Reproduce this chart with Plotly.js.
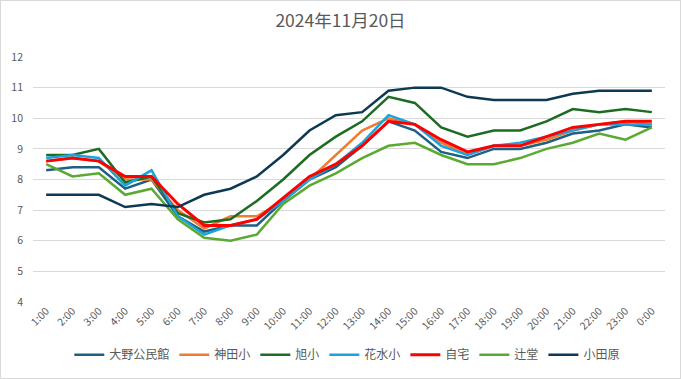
<!DOCTYPE html>
<html><head><meta charset="utf-8">
<script src="https://cdn.plot.ly/plotly-3.0.1.min.js"></script>
<style>html,body{margin:0;padding:0;background:#fff}#wrap{width:681px;height:379px;box-sizing:border-box;border:1px solid #d9d9d9;overflow:hidden}#chart{width:679px;height:377px}</style>
</head><body><div id="wrap"><div id="chart"></div></div>
<script>
const hours = ["1:00","2:00","3:00","4:00","5:00","6:00","7:00","8:00","9:00","10:00","11:00","12:00","13:00","14:00","15:00","16:00","17:00","18:00","19:00","20:00","21:00","22:00","23:00","0:00"];
const oono   = [8.3,8.4,8.4,7.7,8.0,6.8,6.3,6.5,6.5,7.3,8.0,8.4,9.1,9.9,9.6,8.9,8.7,9.0,9.0,9.2,9.5,9.6,9.8,9.7];
const kanda  = [8.6,8.7,8.6,8.0,8.0,7.0,6.4,6.8,6.8,7.3,8.0,8.8,9.6,10.0,9.8,9.2,8.8,9.1,9.1,9.3,9.6,9.8,9.9,9.8];
const asahi  = [8.8,8.8,9.0,7.9,8.1,6.9,6.6,6.7,7.3,8.0,8.8,9.4,9.9,10.7,10.5,9.7,9.4,9.6,9.6,9.9,10.3,10.2,10.3,10.2];
const hanamizu = [8.7,8.8,8.7,7.8,8.3,6.8,6.2,6.5,6.7,7.3,8.0,8.5,9.2,10.1,9.8,9.1,8.8,9.1,9.2,9.4,9.6,9.8,9.8,9.8];
const jitaku = [8.6,8.7,8.6,8.1,8.1,7.2,6.5,6.5,6.7,7.4,8.1,8.5,9.1,9.9,9.8,9.3,8.9,9.1,9.1,9.4,9.7,9.8,9.9,9.9];
const tsujido = [8.5,8.1,8.2,7.5,7.7,6.7,6.1,6.0,6.2,7.2,7.8,8.2,8.7,9.1,9.2,8.8,8.5,8.5,8.7,9.0,9.2,9.5,9.3,9.7];
const odawara = [7.5,7.5,7.5,7.1,7.2,7.1,7.5,7.7,8.1,8.8,9.6,10.1,10.2,10.9,11.0,11.0,10.7,10.6,10.6,10.6,10.8,10.9,10.9,10.9];

const series = [
  {name:"大野公民館", y:oono, color:"#1f5f86", w:2.5},
  {name:"神田小", y:kanda, color:"#ed7d31", w:2.5},
  {name:"旭小", y:asahi, color:"#1e6b22", w:2.5},
  {name:"花水小", y:hanamizu, color:"#1aa3dc", w:2.5},
  {name:"自宅", y:jitaku, color:"#ff0000", w:3},
  {name:"辻堂", y:tsujido, color:"#5aaa32", w:2.5},
  {name:"小田原", y:odawara, color:"#0d3a52", w:2.5}
];
const traces = series.map(s => ({type:"scatter", mode:"lines", name:s.name, x:hours, y:s.y, line:{color:s.color, width:s.w}}));
const font = "'Noto Sans CJK JP', 'Noto Sans', sans-serif";
Plotly.newPlot("chart", traces, {
  width:679, height:377,
  margin:{l:32, r:15, t:56, b:76},
  paper_bgcolor:"#fff", plot_bgcolor:"#fff",
  font:{family:font, color:"#595959", size:10},
  title:{text:"2024年11月20日", x:0.5, xanchor:"center", yref:"container", y:0.947, yanchor:"middle", font:{size:17.5, color:"#595959", family:font}},
  xaxis:{type:"category", range:[-0.5,23.5], tickangle:-45, showgrid:false, zeroline:false, showline:false, ticks:"", automargin:false, tickfont:{size:10.5, color:"#595959"}},
  yaxis:{range:[4,12], dtick:1, showgrid:true, gridcolor:"#d9d9d9", gridwidth:1, zeroline:false, showline:false, ticks:"", automargin:false, ticklabelstandoff:9, tickfont:{size:10.5, color:"#595959"}},
  showlegend:true,
  legend:{orientation:"h", x:0.51, xanchor:"center", xref:"container", yref:"container", y:0.062, yanchor:"middle", font:{size:12, color:"#595959"}, itemwidth:30, tracegroupgap:0}
}, {displayModeBar:false, staticPlot:true});
</script></body></html>
